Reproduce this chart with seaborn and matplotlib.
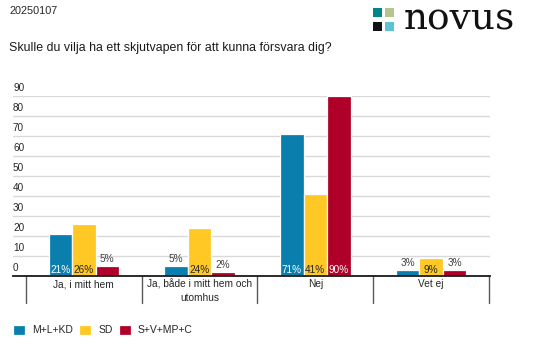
import pandas as pd
import matplotlib
matplotlib.use("Agg")
import matplotlib.pyplot as plt
import matplotlib.transforms as mtrans
from matplotlib.patches import Rectangle
import seaborn as sns

# Data
kategorier = ["Ja, i mitt hem", "Ja, både i mitt hem och\nutomhus", "Nej", "Vet ej"]
grupper = ["M+L+KD", "SD", "S+V+MP+C"]
m_l_kd = [21, 5, 71, 3]
sd = [26, 24, 41, 9]
s_v_mp_c = [5, 2, 90, 3]
y_ticks = [0, 10, 20, 30, 40, 50, 60, 70, 80, 90]

farger = ["#0A7FAE", "#FFC824", "#AE0029"]
text_inne = ["white", "#262626", "white"]

df = pd.DataFrame({
    "kategori": kategorier * 3,
    "grupp": [g for g in grupper for _ in kategorier],
    "andel": m_l_kd + sd + s_v_mp_c,
})

sns.set_style("white")
plt.rcParams["font.family"] = ["Liberation Sans", "DejaVu Sans"]

fig = plt.figure(figsize=(5.33, 3.64), dpi=100)
ax = fig.add_axes([13 / 533, 88 / 364, 477 / 533, 180 / 364])

sns.barplot(data=df, x="kategori", y="andel", hue="grupp", order=kategorier,
            hue_order=grupper, palette=farger, width=0.61, edgecolor="white",
            linewidth=0.9, saturation=1, legend=True, ax=ax)

ax.set_xlim(-0.612, 3.509)
ax.set_ylim(0, 90)
ax.set_xlabel("")
ax.set_ylabel("")

# gridlines + y labels sitting above the lines
ax.set_yticks(y_ticks)
ax.yaxis.grid(True, color="#D9D9D9", lw=1)
ax.set_axisbelow(True)
ax.tick_params(axis="y", length=0, pad=0, labelsize=7.2, labelcolor="#262626")
for lab in ax.get_yticklabels():
    lab.set_horizontalalignment("left")
    lab.set_verticalalignment("bottom")
    lab.set_transform(lab.get_transform() + mtrans.ScaledTranslation(0, 2 / 72, fig.dpi_scale_trans))

ax.tick_params(axis="x", length=0, pad=2.5, labelsize=7.3, labelcolor="#262626")
for lab in ax.get_xticklabels():
    lab.set_linespacing(1.35)

for s in ["top", "right", "left"]:
    ax.spines[s].set_visible(False)
ax.spines["bottom"].set_color("#1a1a1a")
ax.spines["bottom"].set_linewidth(1.3)

# category separators below the axis
trans = mtrans.blended_transform_factory(ax.transData, ax.transAxes)
for b in [i - 0.5 for i in range(len(kategorier) + 1)]:
    ax.plot([b, b], [0, -0.15], transform=trans, color="#595959", lw=1, clip_on=False)

# value labels
for i, cont in enumerate(ax.containers):
    for bar in cont:
        v = bar.get_height()
        xc = bar.get_x() + bar.get_width() / 2
        if v >= 8:
            ax.annotate(f"{v:.0f}%", (xc, 0), xytext=(0, 2.4), textcoords="offset points",
                        ha="center", va="baseline", fontsize=7.2, color=text_inne[i])
        else:
            ax.annotate(f"{v:.0f}%", (xc, v), xytext=(0, 2.6), textcoords="offset points",
                        ha="center", va="baseline", fontsize=7.2, color="#404040")

sns.move_legend(ax, "center left", bbox_to_anchor=(13 / 533, 1 - 330 / 364),
                bbox_transform=fig.transFigure, ncol=3, frameon=False, title=None,
                fontsize=7.5, handlelength=1.15, handleheight=1.15,
                handletextpad=0.65, columnspacing=0.65, borderpad=0, borderaxespad=0)
for t in ax.get_legend().get_texts():
    t.set_color("#262626")

# header texts
fig.text(9 / 533, 1 - 10.5 / 364, "20250107", fontsize=7.8, va="center", color="#262626")
fig.text(9 / 533, 1 - 50.5 / 364, "Skulle du vilja ha ett skjutvapen för att kunna försvara dig?",
         fontsize=8.9, va="baseline", color="#1a1a1a")

# logo
for (x0, y0, c) in [(373, 8, "#00868A"), (385, 8, "#B4C68C"), (373, 22, "#111111"), (385, 22, "#5DC3D3")]:
    fig.patches.append(Rectangle((x0 / 533, 1 - (y0 + 8.5) / 364), 9 / 533, 8.5 / 364,
                                 transform=fig.transFigure, color=c, lw=0))
fig.text(459 / 533, 1 - 29.5 / 364, "novus", fontsize=27, family="DejaVu Serif",
         va="baseline", ha="center", color="#111111")

fig.savefig("out.png", dpi=100)
